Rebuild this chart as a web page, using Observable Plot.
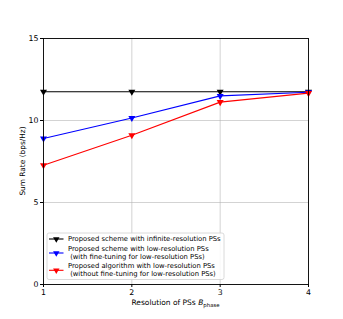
<!DOCTYPE html>
<html><head><meta charset="utf-8">
<script src="https://cdn.jsdelivr.net/npm/d3@7"></script>
<script src="https://cdn.jsdelivr.net/npm/@observablehq/plot@0.6"></script>
<style>body{margin:0;background:#fff;} svg{font-family:"DejaVu Sans",sans-serif;}</style>
</head><body><div id="chart"></div>
<script>
const resolutions = [1, 2, 3, 4];
const infiniteRes = [11.75, 11.75, 11.75, 11.75];
const withFineTuning = [8.9, 10.15, 11.5, 11.72];
const withoutFineTuning = [7.27, 9.1, 11.12, 11.67];
const seriesNames = [
  "Proposed scheme with infinite-resolution PSs",
  "Proposed scheme with low-resolution PSs\n (with fine-tuning for low-resolution PSs)",
  "Proposed algorithm with low-resolution PSs\n (without fine-tuning for low-resolution PSs)"
];
const seriesColors = ["black", "blue", "red"];
const yTicks = [0, 5, 10, 15];
const yLabel = "Sum Rate (bps/Hz)";
const xLabelMain = "Resolution of PSs ";
const xLabelVar = "B";
const xLabelSub = "phase";

const values = [infiniteRes, withFineTuning, withoutFineTuning];
const data = [];
values.forEach((arr, s) => arr.forEach((v, i) => data.push({series: seriesNames[s], x: resolutions[i], y: v})));

const W = 343, H = 319, mL = 43, mR = 35, mT = 38, mB = 35;

const plot = Plot.plot({
  width: W, height: H,
  marginLeft: mL, marginRight: mR, marginTop: mT, marginBottom: mB,
  style: {fontFamily: "DejaVu Sans", fontSize: "7.5px", background: "white"},
  x: {domain: [1, 4], label: null},
  y: {domain: [0, 15], label: null},
  color: {domain: seriesNames, range: seriesColors},
  marks: [
    Plot.gridX(resolutions, {stroke: "#b0b0b0", strokeOpacity: 0.7, strokeWidth: 0.8}),
    Plot.gridY(yTicks, {stroke: "#b0b0b0", strokeOpacity: 0.7, strokeWidth: 0.8}),
    Plot.axisX(resolutions, {tickSize: 3, tickPadding: 2, fontSize: 7.8, label: null, tickFormat: d => d}),
    Plot.axisY(yTicks, {tickSize: 3, tickPadding: 2, fontSize: 7.8, label: null, tickFormat: d => d}),
    Plot.line(data, {x: "x", y: "y", z: "series", stroke: "series", strokeWidth: 1.1}),
    Plot.dot(data, {x: "x", y: "y", fill: "series", symbol: "triangle", rotate: 180, r: 2.6}),
    Plot.frame({stroke: "black", strokeWidth: 0.9})
  ]
});
document.getElementById("chart").appendChild(plot);

const svg = d3.select(plot);
// y label
svg.append("text")
  .attr("transform", `translate(${22.5},${mT + (H - mT - mB) / 2}) rotate(-90)`)
  .attr("text-anchor", "middle").attr("dominant-baseline", "middle")
  .attr("font-size", 7.4).attr("fill", "black").text(yLabel);
// x label
const xl = svg.append("text")
  .attr("x", mL + (W - mL - mR) / 2).attr("y", H - mB + 21)
  .attr("text-anchor", "middle").attr("font-size", 7.5).attr("fill", "black");
xl.append("tspan").text(xLabelMain);
xl.append("tspan").attr("font-style", "italic").text(xLabelVar);
xl.append("tspan").attr("font-size", 5.4).attr("dy", 1.8).text(xLabelSub);

// legend
const lx = mL + 4, ly = H - mB - 51, lw = 177, lh = 46.5;
const lg = svg.append("g").attr("text-anchor", "start");
lg.append("rect").attr("x", lx).attr("y", ly).attr("width", lw).attr("height", lh)
  .attr("rx", 2).attr("fill", "white").attr("fill-opacity", 0.85)
  .attr("stroke", "#d0d0d0").attr("stroke-width", 0.8);
const entryY = [6, 20, 37.3];
const tri = d3.symbol(d3.symbolTriangle, 18);
seriesNames.forEach((name, i) => {
  const lines = name.split("\n");
  const cy = ly + entryY[i];
  lg.append("line").attr("x1", lx + 2).attr("x2", lx + 16.5).attr("y1", cy).attr("y2", cy)
    .attr("stroke", seriesColors[i]).attr("stroke-width", 1.1);
  lg.append("path").attr("d", tri()).attr("transform", `translate(${lx + 9.3},${cy}) rotate(180)`)
    .attr("fill", seriesColors[i]);
  const n = lines.length;
  lines.forEach((t, j) => {
    lg.append("text").attr("x", lx + 21).attr("y", cy + (j - (n - 1) / 2) * 7.7)
      .attr("text-anchor", "start")
      .attr("dominant-baseline", "middle").attr("font-size", 6.8).attr("fill", "black")
      .style("white-space", "pre").text(t);
  });
});
</script></body></html>
